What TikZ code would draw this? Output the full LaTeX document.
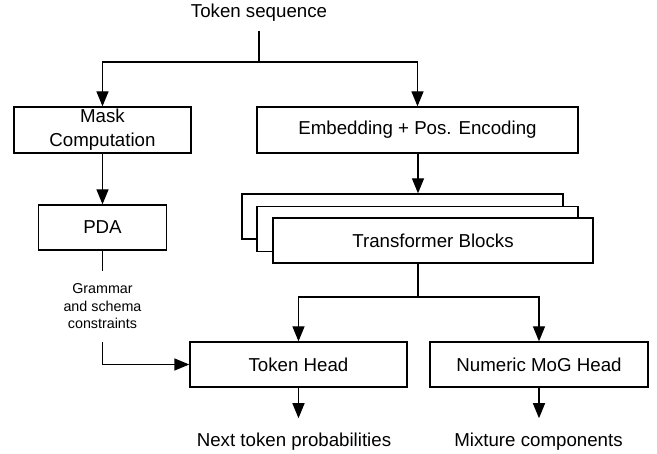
\documentclass[tikz,border=0pt]{standalone}
\usepackage{fontspec}
\setmainfont{Liberation Sans}
\usetikzlibrary{arrows.meta}
\tikzset{
  box/.style={draw, line width=1.3pt, fill=white, minimum height=45pt, align=center, inner sep=0pt},
  lbl/.style={inner sep=0pt, align=center},
  arr/.style={-{Triangle[length=15pt,width=12pt]}},
  wire/.style={line width=1.3pt}
}
\begin{document}
\begin{tikzpicture}[x=1pt, y=-1pt, font=\fontsize{18.7}{24}\selectfont]
      \useasboundingbox (0,0) rectangle (657,454);
      \node[lbl, anchor=base] (tok) at (259,17.3) {Token sequence};
      \node[box, minimum width=177pt, minimum height=46pt] (mask) at (102.5,130) {Mask\\Computation};
      \node[box, minimum width=321pt, minimum height=46pt] (emb) at (417.5,130) {Embedding + Pos. Encoding};
      \node[box, minimum width=128pt] (pda) at (102.5,227.5) {PDA};
      \node[lbl, minimum height=71pt, font=\fontsize{14.3}{17.5}\selectfont] (gram) at (102.5,306.5) {Grammar\\and schema\\constraints};
      % stacked blocks
      \node[box, minimum width=321pt] (back) at (402.5,216.5) {};
      \node[box, minimum width=321pt] (mid) at (417.5,229) {};
      \node[box, minimum width=320pt] (front) at (433,240.5) {Transformer Blocks};
      \node[box, minimum width=217pt] (thead) at (298.5,364.5) {Token Head};
      \node[box, minimum width=218pt] (nhead) at (539,364.5) {Numeric MoG Head};
      \node[lbl, anchor=base] (out1) at (294,447) {Next token probabilities};
      \node[lbl, anchor=base] (out2) at (538.5,447) {Mixture components};
      \coordinate (split1) at (259,62);
      \coordinate (split2) at (418,297);
      \draw[wire, shorten <=10pt] (tok.south) -- (split1);
      \draw[wire, arr] (split1) -| (mask);
      \draw[wire, arr] (split1) -| (emb);
      \draw[wire, arr] (mask) -- (pda);
      \draw[wire] (pda) -- (gram);
      \draw[wire, arr] (gram) |- (thead);
      \draw[wire, arr] (emb.south -| split2) -- (back.north -| split2);
      \draw[wire] (front.south -| split2) -- (split2);
      \draw[wire, arr] (split2) -| (thead);
      \draw[wire, arr] (split2) -| (nhead);
      \draw[wire, arr, shorten >=15pt] (thead) -- (thead |- out1.north);
      \draw[wire, arr, shorten >=15pt] (nhead) -- (nhead |- out2.north);
\end{tikzpicture}
\end{document}
